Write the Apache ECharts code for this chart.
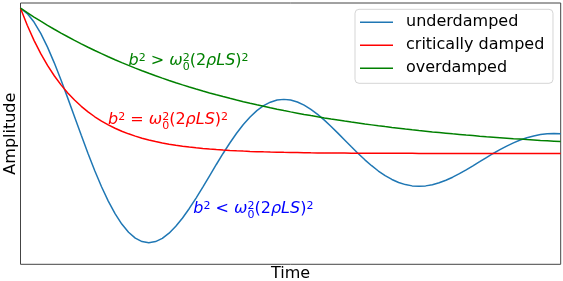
<!DOCTYPE html>
<html>
<head>
<meta charset="utf-8">
<script src="https://cdn.jsdelivr.net/npm/echarts@6/dist/echarts.min.js"></script>
<style>
html,body{margin:0;padding:0;background:#fff;}
#chart{width:563px;height:281px;}
</style>
</head>
<body>
<div id="chart"></div>
<script>
const times = [0,0.125,0.25,0.375,0.5,0.625,0.75,0.875,1,1.125,1.25,1.375,1.5,1.625,1.75,1.875,2,2.125,2.25,2.375,2.5,2.625,2.75,2.875,3,3.125,3.25,3.375,3.5,3.625,3.75,3.875,4,4.125,4.25,4.375,4.5,4.625,4.75,4.875,5,5.125,5.25,5.375,5.5,5.625,5.75,5.875,6,6.125,6.25,6.375,6.5,6.625,6.75,6.875,7,7.125,7.25,7.375,7.5,7.625,7.75,7.875,8,8.125,8.25,8.375,8.5,8.625,8.75,8.875,9,9.125,9.25,9.375,9.5,9.625,9.75,9.875,10];
const underdamped = [1,0.9633,0.9047,0.8266,0.7320,0.6240,0.5059,0.3811,0.2530,0.1249,0,-0.1188,-0.2289,-0.3280,-0.4142,-0.4860,-0.5423,-0.5825,-0.6064,-0.6142,-0.6065,-0.5843,-0.5487,-0.5014,-0.4440,-0.3785,-0.3069,-0.2312,-0.1535,-0.0758,0,0.0721,0.1389,0.1990,0.2512,0.2948,0.3289,0.3533,0.3678,0.3725,0.3679,0.3544,0.3328,0.3041,0.2693,0.2296,0.1861,0.1402,0.0931,0.0460,0,-0.0437,-0.0842,-0.1207,-0.1524,-0.1788,-0.1995,-0.2143,-0.2231,-0.2260,-0.2231,-0.2149,-0.2019,-0.1844,-0.1633,-0.1392,-0.1129,-0.0850,-0.0565,-0.0279,0,0.0265,0.0511,0.0732,0.0924,0.1084,0.1210,0.1300,0.1353,0.1371,0.1353];
const criticallyDamped = [1,0.8825,0.7788,0.6873,0.6065,0.5353,0.4724,0.4169,0.3679,0.3247,0.2865,0.2528,0.2231,0.1969,0.1738,0.1534,0.1353,0.1194,0.1054,0.0930,0.0821,0.0724,0.0639,0.0564,0.0498,0.0439,0.0388,0.0342,0.0302,0.0266,0.0235,0.0207,0.0183,0.0162,0.0143,0.0126,0.0111,0.0098,0.0087,0.0076,0.0067,0.0059,0.0052,0.0046,0.0041,0.0036,0.0032,0.0028,0.0025,0.0022,0.0019,0.0017,0.0015,0.0013,0.0012,0.0010,0.0009,0.0008,0.0007,0.0006,0.0006,0.0005,0.0004,0.0004,0.0003,0.0003,0.0003,0.0002,0.0002,0.0002,0.0002,0.0001,0.0001,0.0001,0.0001,0.0001,0.0001,0.0001,0,0,0];
const overdamped = [1,0.9692,0.9394,0.9105,0.8825,0.8553,0.8290,0.8035,0.7788,0.7548,0.7316,0.7091,0.6873,0.6661,0.6456,0.6258,0.6065,0.5879,0.5698,0.5522,0.5353,0.5188,0.5028,0.4874,0.4724,0.4578,0.4437,0.4301,0.4169,0.4040,0.3916,0.3796,0.3679,0.3566,0.3456,0.3350,0.3247,0.3147,0.3050,0.2956,0.2865,0.2777,0.2691,0.2608,0.2528,0.2450,0.2375,0.2302,0.2231,0.2162,0.2096,0.2031,0.1969,0.1908,0.1850,0.1793,0.1738,0.1684,0.1632,0.1582,0.1534,0.1486,0.1441,0.1396,0.1353,0.1312,0.1271,0.1232,0.1194,0.1157,0.1122,0.1087,0.1054,0.1021,0.0990,0.0959,0.0930,0.0901,0.0874,0.0847,0.0821];
const seriesNames = ['underdamped','critically damped','overdamped'];
const seriesColors = ['#1f77b4','#ff0000','#008000'];
const labelPos = [[2.0,0.61],[1.62,0.208],[3.2,-0.405]];
const labelOps = ['>','=','<'];
const labelColors = ['#008000','#ff0000','#0000ff'];

const FONT = 'DejaVu Sans';
function pairs(vals){ return times.map((t,i)=>[t, vals[i]]); }
function rich(color){
  const base = {color:color, opacity:1, fontFamily:FONT, fontSize:16, lineHeight:16, verticalAlign:'bottom', padding:[0,0,6,0]};
  const sup = {color:color, opacity:1, fontFamily:FONT, fontSize:11, lineHeight:11, verticalAlign:'bottom', padding:[0,0,11.2,0]};
  return {
    i: Object.assign({}, base, {fontStyle:'italic'}),
    n: Object.assign({}, base),
    sup: sup,
    supz: Object.assign({}, sup, {width:0}),
    sub: {color:color, opacity:1, fontFamily:FONT, fontSize:11, lineHeight:11, verticalAlign:'bottom', padding:[0,0,2.3,0]}
  };
}
const allData = [underdamped, criticallyDamped, overdamped];
const series = allData.map((d,k)=>({
  name: seriesNames[k], type:'line', data: pairs(d), showSymbol:false, smooth:false,
  lineStyle:{color:seriesColors[k], width:1.5}, itemStyle:{color:seriesColors[k]}, z:2
}));
labelPos.forEach((p,k)=>{
  series.push({
    type:'scatter', name:'ann'+k, data:[p], symbolSize:0, silent:true, z:5,
    itemStyle:{opacity:1, color:labelColors[k]},
    label:{show:true, opacity:1, position:[0,0], align:'left', verticalAlign:'bottom', offset:[0,10.4],
      formatter:'{i|b}{sup|2}{n| '+labelOps[k]+' }{i|ω}{supz|2}{sub|0}{n|(2}{i|ρLS}{n|)}{sup|2}',
      rich: rich(labelColors[k])}
  });
});

const chart = echarts.init(document.getElementById('chart'), null, {renderer:'canvas'});
chart.setOption({
  animation:false,
  backgroundColor:'#fff',
  grid:{left:20.5, right:2.3, top:3, bottom:16.7, containLabel:false, outerBoundsMode:'none',
    show:true, borderColor:'#444', borderWidth:1, backgroundColor:'transparent'},
  xAxis:{type:'value', min:0, max:10, name:'Time', nameLocation:'middle', nameGap:2,
    nameTextStyle:{fontFamily:FONT, fontSize:16, color:'#000'},
    axisLine:{show:false}, axisTick:{show:false}, axisLabel:{show:false}, splitLine:{show:false}},
  yAxis:{type:'value', min:-0.763, max:1.036, name:'Amplitude', nameLocation:'middle', nameGap:2,
    nameTextStyle:{fontFamily:FONT, fontSize:16, color:'#000'},
    axisLine:{show:false}, axisTick:{show:false}, axisLabel:{show:false}, splitLine:{show:false}},
  legend:{data:seriesNames, orient:'vertical', left:355, top:9.3, padding:[4,8.7,6,5],
    itemWidth:33, itemHeight:1.5, itemGap:5, icon:'rect',
    backgroundColor:'#fff', borderColor:'#d5d5d5', borderWidth:1, borderRadius:4,
    textStyle:{fontFamily:FONT, fontSize:16, lineHeight:18, color:'#000', padding:[0,0,0,8]}},
  series: series
});
</script>
</body>
</html>
